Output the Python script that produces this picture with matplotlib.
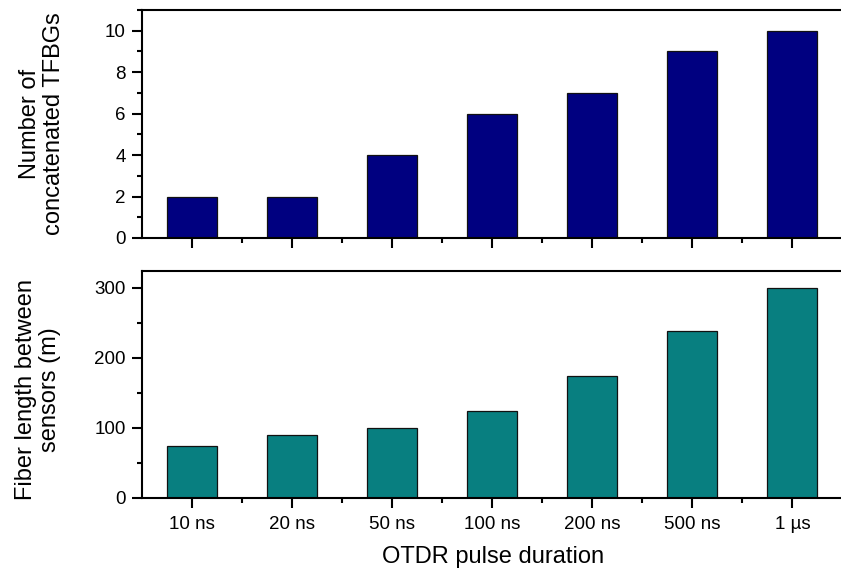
import numpy as np
import matplotlib
matplotlib.use('Agg')
import matplotlib.pyplot as plt
from matplotlib.ticker import MultipleLocator

pulse_labels = ['10 ns', '20 ns', '50 ns', '100 ns', '200 ns', '500 ns', '1 µs']
n_tfbgs = [2, 2, 4, 6, 7, 9, 10]
fiber_length = [75, 90, 100, 124, 175, 239, 300]

plt.rcParams['font.family'] = ['Liberation Sans', 'DejaVu Sans']

W, H = 841, 569
fig = plt.figure(figsize=(W / 100, H / 100), dpi=100)

def px_axes(left, top, right, bottom):
    return fig.add_axes([left / W, 1 - bottom / H, (right - left) / W, (bottom - top) / H])

L, R = 142.3, 842.5
ax1 = px_axes(L, 10, R, 238)
ax2 = px_axes(L, 270.5, R, 498)

x = np.arange(1, len(pulse_labels) + 1)

ax1.bar(x, n_tfbgs, width=0.5, color='#000080', edgecolor='#111111', linewidth=0.9)
ax2.bar(x, fiber_length, width=0.5, color='#087f80', edgecolor='#111111', linewidth=0.9)

for ax in (ax1, ax2):
    ax.set_xlim(0.5, 7.5)
    ax.set_xticks(x)
    ax.set_xticks(np.arange(1.5, 7.5, 1), minor=True)
    ax.spines['right'].set_visible(False)
    for s in ('left', 'bottom', 'top'):
        ax.spines[s].set_linewidth(1.5)
    ax.tick_params(which='major', direction='out', length=7, width=1.5, labelsize=13.5, pad=5)
    ax.tick_params(which='minor', direction='out', length=3.8, width=1.5)

ax1.set_ylim(0, 11)
ax1.yaxis.set_major_locator(MultipleLocator(2))
ax1.yaxis.set_minor_locator(MultipleLocator(1))
ax1.set_xticklabels([])
ax1.set_ylabel('Number of\nconcatenated TFBGs', fontsize=17, linespacing=1.1,
               multialignment='center')
ax1.yaxis.set_label_coords((42 - L) / (R - L), 0.5)

ax2.set_ylim(0, 325)
ax2.yaxis.set_major_locator(MultipleLocator(100))
ax2.yaxis.set_minor_locator(MultipleLocator(50))
ax2.set_xticklabels(pulse_labels)
ax2.tick_params(axis='x', which='major', pad=6)
ax2.set_ylabel('Fiber length between\nsensors (m)', fontsize=17, linespacing=1.1,
               multialignment='center')
ax2.yaxis.set_label_coords((38 - L) / (R - L), (498 - 390) / 227.5)
ax2.set_xlabel('OTDR pulse duration', fontsize=17)
ax2.xaxis.set_label_coords((493 - L) / (R - L), (498 - 563) / 227.5)

for ax in (ax1, ax2):
    ax.yaxis.label.set_va('center')
    ax.yaxis.label.set_ha('center')
ax2.xaxis.label.set_va('baseline')

fig.savefig('out.png', dpi=100)
